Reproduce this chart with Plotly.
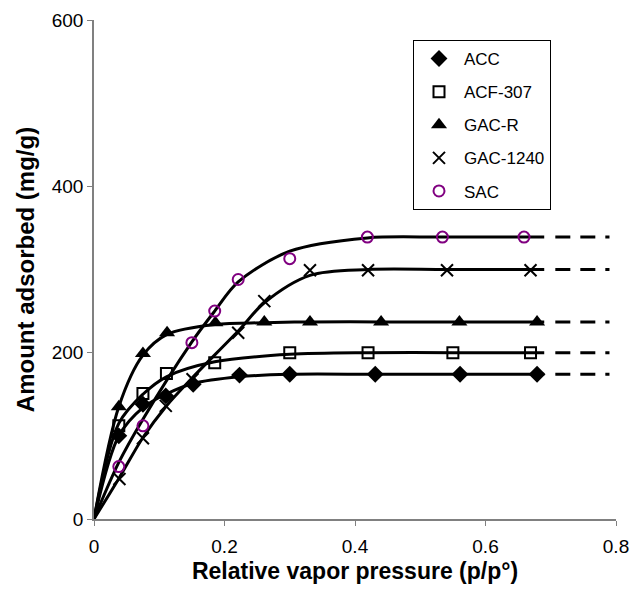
import plotly.graph_objects as go

# ---- data ----
acc_x = [0.038, 0.075, 0.110, 0.152, 0.223, 0.300, 0.431, 0.561, 0.679]
acc_y = [100, 138, 148, 162, 173, 174, 174, 174, 174]
acf_x = [0.038, 0.075, 0.111, 0.185, 0.300, 0.420, 0.550, 0.669]
acf_y = [112, 151, 175, 188, 200, 200, 200, 200]
gacr_x = [0.038, 0.075, 0.112, 0.186, 0.261, 0.331, 0.440, 0.560, 0.679]
gacr_y = [135, 199, 224, 236, 237, 237, 237, 237, 237]
gac1240_x = [0.039, 0.075, 0.110, 0.151, 0.221, 0.261, 0.331, 0.420, 0.541, 0.669]
gac1240_y = [48, 97, 136, 168, 224, 262, 299, 299, 299, 299]
sac_x = [0.038, 0.075, 0.150, 0.185, 0.221, 0.300, 0.419, 0.534, 0.659]
sac_y = [63, 112, 212, 250, 288, 313, 339, 339, 339]

# smooth fitted curves
acc_cx = [0, 0.038, 0.075, 0.110, 0.152, 0.223, 0.300, 0.431, 0.561, 0.69]
acc_cy = [0, 100, 134, 150, 163, 171, 174, 174, 174, 174]
acf_cx = [0, 0.038, 0.075, 0.111, 0.185, 0.300, 0.420, 0.550, 0.69]
acf_cy = [0, 115, 150, 171, 189, 198, 200, 200, 200]
gacr_cx = [0, 0.038, 0.075, 0.112, 0.186, 0.261, 0.331, 0.440, 0.560, 0.69]
gacr_cy = [0, 135, 197, 222, 234, 236, 237, 237, 237, 237]
gac1240_cx = [0, 0.039, 0.075, 0.110, 0.151, 0.221, 0.261, 0.331, 0.420, 0.541, 0.69]
gac1240_cy = [0, 50, 98, 135, 170, 226, 260, 293, 300, 300, 300]
sac_cx = [0, 0.038, 0.075, 0.150, 0.185, 0.221, 0.300, 0.419, 0.534, 0.69]
sac_cy = [0, 68, 120, 213, 250, 285, 322, 338, 339, 339]

dash_x = [0.707, 0.79]

names = ["ACC", "ACF-307", "GAC-R", "GAC-1240", "SAC"]
x_ticks = [0, 0.2, 0.4, 0.6, 0.8]
x_ticktext = ["0", "0.2", "0.4", "0.6", "0.8"]
y_ticks = [0, 200, 400, 600]

series = [
    (acc_x, acc_y, acc_cx, acc_cy, dict(symbol="diamond", size=13, color="black")),
    (acf_x, acf_y, acf_cx, acf_cy, dict(symbol="square-open", size=11, color="black", line=dict(width=2, color="black"))),
    (gacr_x, gacr_y, gacr_cx, gacr_cy, dict(symbol="triangle-up", size=14, color="black")),
    (gac1240_x, gac1240_y, gac1240_cx, gac1240_cy, dict(symbol="x-thin-open", size=12, color="black", line=dict(width=2, color="black"))),
    (sac_x, sac_y, sac_cx, sac_cy, dict(symbol="circle-open", size=11, color="#800080", line=dict(width=2, color="#800080"))),
]

fig = go.Figure()
for (mx, my, cx, cy, mk), nm in zip(series, names):
    fig.add_trace(go.Scatter(x=cx, y=cy, mode="lines", line=dict(color="black", width=3, shape="spline", smoothing=0.9),
                             showlegend=False, hoverinfo="skip"))
    fig.add_trace(go.Scatter(x=dash_x, y=[cy[-1], cy[-1]], mode="lines",
                             line=dict(color="black", width=3, dash="15px,10px"),
                             showlegend=False, hoverinfo="skip"))
for (mx, my, cx, cy, mk), nm in zip(series, names):
    fig.add_trace(go.Scatter(x=mx, y=my, mode="markers", marker=mk, name=nm, legendgroup=nm))

fig.update_layout(
    width=630, height=591,
    margin=dict(l=94, r=14, t=20, b=72),
    plot_bgcolor="white", paper_bgcolor="white",
    font=dict(family="Liberation Sans, Arial, sans-serif", color="black", size=18),
    legend=dict(x=(413 - 94) / 522, y=(519 - 40) / 499, xanchor="left", yanchor="top",
                bordercolor="black", borderwidth=1, bgcolor="white",
                font=dict(size=17), traceorder="grouped", tracegroupgap=8,
                itemwidth=40),
)
fig.update_xaxes(range=[0, 0.8], tickvals=x_ticks, ticktext=x_ticktext, showgrid=False, zeroline=False,
                 showline=True, linecolor="#808080", linewidth=1.5, ticks="outside", ticklen=5,
                 tickcolor="#808080", tickfont=dict(size=19), automargin=False, ticklabelstandoff=4,
                 title=dict(text="<b>Relative vapor pressure (p/p°)</b>", font=dict(size=23), standoff=7))
fig.update_yaxes(range=[0, 600], tickvals=y_ticks, showgrid=False, zeroline=False,
                 showline=True, linecolor="#808080", linewidth=1.5, ticks="outside", ticklen=5,
                 tickcolor="#808080", tickfont=dict(size=19), automargin=False,
                 title=dict(text="<b>Amount adsorbed (mg/g)</b>", font=dict(size=24), standoff=10))

fig.write_html("out.html")
